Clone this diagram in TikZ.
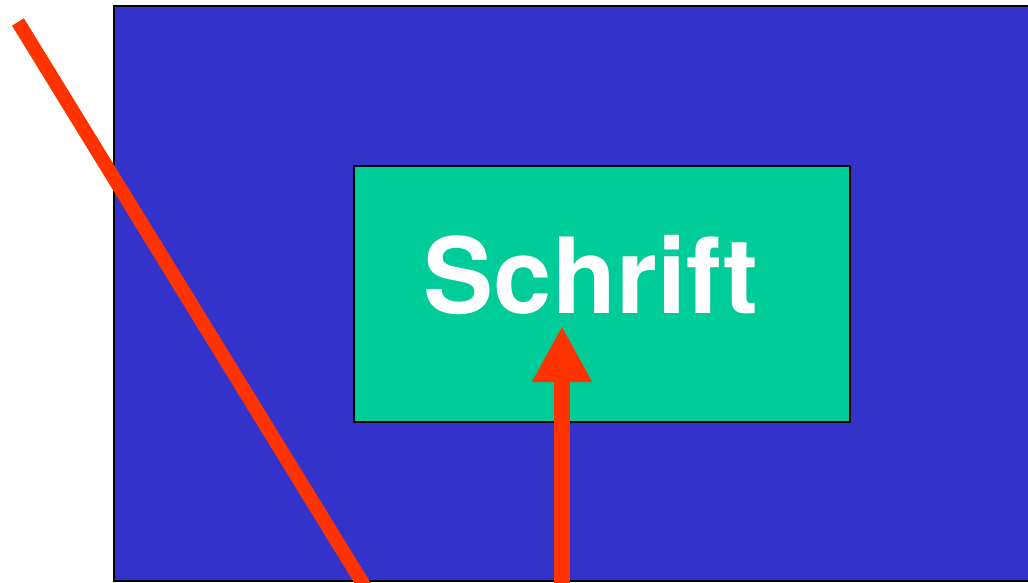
\documentclass[tikz,border=0pt]{standalone}
\usepackage{fontspec}
\newfontfamily\heros{TeX Gyre Heros}
\usetikzlibrary{arrows.meta,positioning}
\definecolor{bgblue}{HTML}{3333CC}
\definecolor{fieldgreen}{HTML}{00CC99}
\definecolor{markred}{HTML}{FF3300}

\begin{document}
\begin{tikzpicture}[x=1pt, y=-1pt,
   panel/.style={draw=black, line width=2pt, fill=bgblue, rectangle,
                 minimum width=930pt, minimum height=575pt, inner sep=0pt},
   field/.style={draw=black, line width=1.6pt, fill=fieldgreen, rectangle,
                 minimum width=496pt, minimum height=256pt, inner sep=0pt},
   marker/.style={draw=markred, line width=14pt},
   pointer/.style={draw=markred, line width=16pt, -{Triangle[width=56pt,length=56pt]}}]
  \useasboundingbox (0,0) rectangle (1028,583);
  \node[panel] (back) at (579,293.5) {};
  \node[field] (box) at (602,294) {};
  \node[anchor=base, text=white, inner sep=0pt, font=\heros\bfseries\fontsize{105}{105}\selectfont]
       (word) at (591,313) {Schrift};
  % strokes
  \coordinate (slashtop) at (18,22);
  \coordinate (slashend) at (373,600);
  \coordinate (arrowfoot) at (562,600);
  \coordinate (arrowtip) at (562,326);
  \draw[marker] (slashtop) -- (slashend);
  \draw[pointer] (arrowfoot) -- (arrowtip);
\end{tikzpicture}
\end{document}
